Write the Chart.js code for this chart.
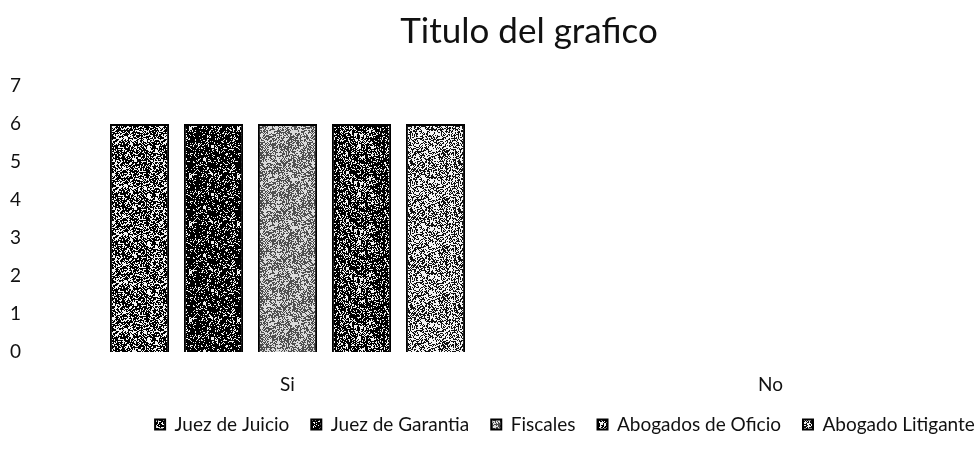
<!DOCTYPE html>
<html><head><meta charset="utf-8">
<script src="https://cdn.jsdelivr.net/npm/chart.js@4"></script>
<style>html,body{margin:0;padding:0;background:#fff;overflow:hidden}
#wrap{position:relative;width:1130px;height:449px}</style></head>
<body><div id="wrap"><canvas id="c" width="1130" height="449"></canvas></div>
<script>
const categories = ["Si", "No"];
const seriesNames = ["Juez de Juicio", "Juez de Garantia", "Fiscales", "Abogados de Oficio", "Abogado Litigante"];
const juezJuicio = [6, 0];
const juezGarantia = [6, 0];
const fiscales = [6, 0];
const abogadosOficio = [6, 0];
const abogadoLitigante = [6, 0];
const yTicks = [0, 1, 2, 3, 4, 5, 6, 7];
const titleText = "Titulo del grafico";

function hash(n) { const x = Math.sin(n * 12.9898 + 78.233) * 43758.5453; return x - Math.floor(x); }
function makePattern(seed, base, speck, density, blobs) {
  const s = 48, c = document.createElement('canvas');
  c.width = s; c.height = s;
  const g = c.getContext('2d');
  g.fillStyle = base; g.fillRect(0, 0, s, s);
  g.fillStyle = speck;
  for (let y = 0; y < s; y++) for (let x = 0; x < s; x++) {
    if (hash(seed * 10007 + y * s + x) < density) g.fillRect(x, y, 1, 1);
  }
  for (let i = 0; i < blobs; i++) {
    const bx = Math.floor(hash(seed * 31 + i * 7) * s), by = Math.floor(hash(seed * 53 + i * 11) * s);
    g.fillRect(bx, by, 3, 3);
  }
  return g.createPattern(c, 'repeat');
}
const ctx = document.getElementById('c').getContext('2d');
const fills = [
  makePattern(1, '#000000', '#f4f4f4', 0.38, 8),
  makePattern(2, '#000000', '#f0f0f0', 0.20, 3),
  makePattern(3, '#4e4e4e', '#dcdcdc', 0.45, 16),
  makePattern(4, '#000000', '#f0f0f0', 0.28, 5),
  makePattern(5, '#111111', '#f4f4f4', 0.50, 10)
];
const values = [juezJuicio, juezGarantia, fiscales, abogadosOficio, abogadoLitigante];
const FONT = "Lato, 'Open Sans', sans-serif";

new Chart(ctx, {
  type: 'bar',
  data: {
    labels: categories,
    datasets: seriesNames.map((n, i) => ({
      label: n, data: values[i], backgroundColor: fills[i],
      borderColor: '#000', borderWidth: 2,
      categoryPercentage: 0.766, barPercentage: 0.8
    }))
  },
  options: {
    responsive: false, animation: false,
    layout: { padding: { bottom: 5 } },
    plugins: {
      title: { display: true, text: titleText, fullSize: false, color: '#111',
        font: { family: FONT, size: 35, weight: 'normal' }, padding: { top: 11, bottom: 33 } },
      legend: { position: 'bottom', labels: { boxWidth: 10, boxHeight: 10, padding: 22, color: '#111',
        font: { family: FONT, size: 19 } } },
      tooltip: { enabled: false }
    },
    scales: {
      x: { grid: { display: false }, border: { display: false },
        afterFit: s => { s.height = 41; },
        ticks: { color: '#111', font: { family: FONT, size: 19 }, padding: 13 } },
      y: { min: 0, max: 7, grid: { display: false }, border: { display: false },
        afterBuildTicks: s => { s.ticks = yTicks.map(v => ({ value: v })); },
        afterFit: s => { s.width = 46; },
        ticks: { color: '#111', font: { family: FONT, size: 19 }, padding: 17 } },
      pad: { type: 'linear', position: 'right', display: true, grid: { display: false },
        border: { display: false }, ticks: { display: false }, afterFit: s => { s.width = 118; } }
    }
  }
});
</script></body></html>
